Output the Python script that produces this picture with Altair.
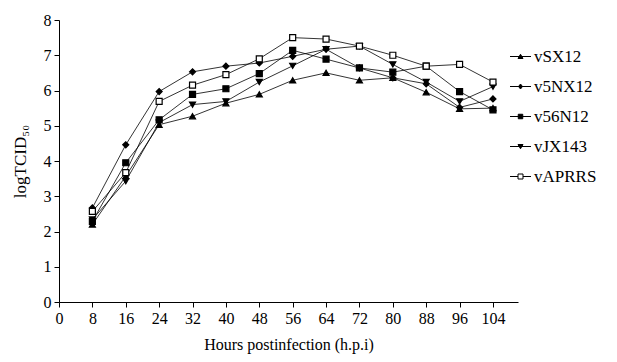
import altair as alt
import pandas as pd

hours = [8, 16, 24, 32, 40, 48, 56, 64, 72, 80, 88, 96, 104]
series_names = ["vSX12", "v5NX12", "v56N12", "vJX143", "vAPRRS"]
vSX12 = [2.20, 3.57, 5.03, 5.27, 5.64, 5.89, 6.29, 6.50, 6.29, 6.36, 5.95, 5.48, 5.50]
v5NX12 = [2.67, 4.46, 5.97, 6.53, 6.69, 6.78, 6.97, 7.17, 6.64, 6.36, 6.19, 5.52, 5.76]
v56N12 = [2.29, 3.95, 5.17, 5.89, 6.05, 6.48, 7.14, 6.89, 6.64, 6.52, 6.69, 5.97, 5.45]
vJX143 = [2.34, 3.43, 5.09, 5.60, 5.69, 6.24, 6.70, 7.17, 7.26, 6.74, 6.24, 5.69, 6.11]
vAPRRS = [2.57, 3.67, 5.69, 6.15, 6.45, 6.90, 7.50, 7.46, 7.26, 7.00, 6.69, 6.74, 6.24]
x_ticks = [0, 8, 16, 24, 32, 40, 48, 56, 64, 72, 80, 88, 96, 104]
y_ticks = [0, 1, 2, 3, 4, 5, 6, 7, 8]

values = [vSX12, v5NX12, v56N12, vJX143, vAPRRS]
rows = []
for name, vals in zip(series_names, values):
    for h, v in zip(hours, vals):
        rows.append({"series": name, "hour": h, "value": v})
df = pd.DataFrame(rows)

FONT = "Times New Roman, Liberation Serif, serif"

shapes = ["triangle-up", "diamond", "square", "triangle-down", "square"]
fills = ["black", "black", "black", "black", "white"]
strokes = ["black"] * 5
sizes = [36, 36, 40, 36, 60]
legend_paths = [
    "M-2.1,0H2.1M0,-0.45L0.5,0.4H-0.5Z",
    "M-2.1,0H2.1M0,-0.5L0.4,0L0,0.5L-0.4,0Z",
    "M-2.1,0H2.1M-0.45,-0.45H0.45V0.45H-0.45Z",
    "M-2.1,0H2.1M0,0.45L0.5,-0.4H-0.5Z",
    "M-2.1,0H-0.5M0.5,0H2.1M-0.5,-0.5H0.5V0.5H-0.5Z",
]

x_enc = alt.X(
    "hour:Q",
    scale=alt.Scale(domain=[0, 110], nice=False),
    axis=alt.Axis(
        values=x_ticks, title="Hours postinfection (h.p.i)", grid=False,
        labelFont=FONT, labelFontSize=16, labelColor="black",
        titleFont=FONT, titleFontSize=16, titleFontWeight="normal", titleColor="black",
        domainColor="black", tickColor="black", tickSize=5, labelPadding=3,
        titlePadding=10, labelFlush=False, labelOverlap=False,
    ),
)
y_enc = alt.Y(
    "value:Q",
    scale=alt.Scale(domain=[0, 8], nice=False),
    axis=alt.Axis(
        values=y_ticks, title="logTCID₅₀", grid=False,
        labelFont=FONT, labelFontSize=16, labelColor="black",
        titleFont=FONT, titleFontSize=17, titleFontWeight="normal", titleColor="black",
        domainColor="black", tickColor="black", tickSize=5, labelPadding=3,
        titlePadding=14, labelFlush=False,
    ),
)

lines = alt.Chart(df).mark_line(color="black", strokeWidth=0.8).encode(
    x=x_enc, y=y_enc, detail="series:N"
)

points = alt.Chart(df).mark_point(filled=False, stroke="black", strokeWidth=1.2, opacity=1).encode(
    x=x_enc, y=y_enc,
    shape=alt.Shape("series:N", scale=alt.Scale(domain=series_names, range=shapes), legend=None),
    fill=alt.Fill("series:N", scale=alt.Scale(domain=series_names, range=fills), legend=None),
    size=alt.Size("series:N", scale=alt.Scale(domain=series_names, range=sizes), legend=None),
)

def leg():
    return alt.Legend(
        title=None, orient="none", legendX=453, legendY=28,
        labelFont=FONT, labelFontSize=17, labelColor="black",
        symbolSize=100, symbolStrokeColor="black", symbolStrokeWidth=1,
        symbolOpacity=1, labelOffset=5, rowPadding=12, padding=0,
    )

legend_layer = alt.Chart(df).transform_filter("false").mark_point(
    filled=False, strokeWidth=1, size=100, opacity=1
).encode(
    x=x_enc, y=y_enc,
    shape=alt.Shape("series:N", scale=alt.Scale(domain=series_names, range=legend_paths), legend=leg()),
    fill=alt.Fill("series:N", scale=alt.Scale(domain=series_names, range=fills), legend=leg()),
    stroke=alt.Stroke("series:N", scale=alt.Scale(domain=series_names, range=strokes), legend=leg()),
)

chart = alt.layer(lines, points, legend_layer).resolve_scale(
    shape="independent", fill="independent", size="independent", stroke="independent"
).properties(
    width=459, height=282,
    autosize=alt.AutoSizeParams(type="none"),
    padding={"left": 51, "top": 12, "right": 91, "bottom": 52},
    background="white",
).configure_view(stroke=None)

chart.save("out.html", embed_options={"renderer": "svg", "actions": False})
